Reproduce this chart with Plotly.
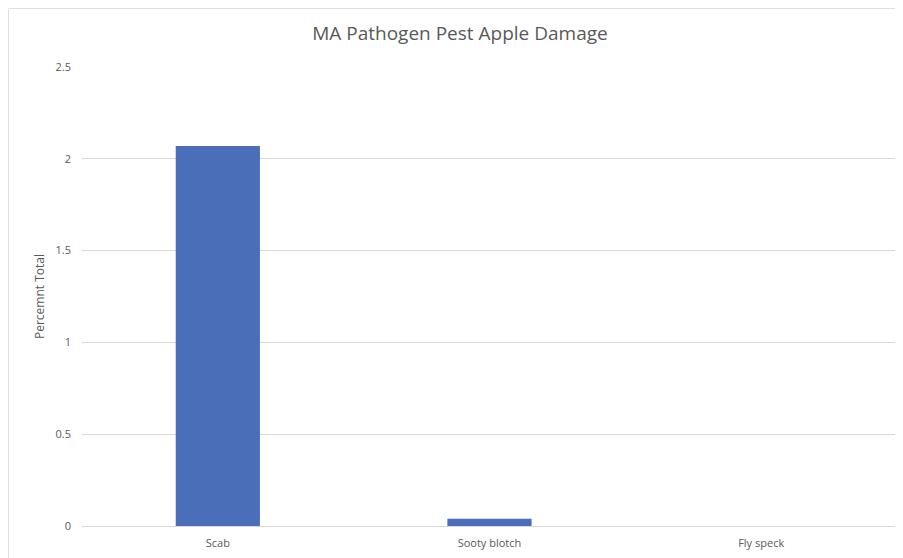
import plotly.graph_objects as go

categories = ["Scab", "Sooty blotch", "Fly speck"]
values = [2.07, 0.04, 0.0]
y_ticks = [0, 0.5, 1, 1.5, 2, 2.5]
y_tick_labels = ["0", "0.5", "1", "1.5", "2", "2.5"]

font_family = "Open Sans, sans-serif"
text_color = "#595959"

fig = go.Figure(
    go.Bar(
        x=categories,
        y=values,
        marker=dict(color="#4A6EB7", line=dict(width=0)),
    )
)

fig.update_layout(
    width=895,
    height=550,
    margin=dict(l=74, r=6, t=59, b=32),
    paper_bgcolor="white",
    plot_bgcolor="white",
    bargap=0.69,
    showlegend=False,
    title=dict(
        text="MA Pathogen Pest Apple Damage",
        x=0.505,
        xanchor="center",
        y=1 - 25 / 550,
        yanchor="middle",
        font=dict(family=font_family, size=19, color=text_color),
    ),
    font=dict(family=font_family, color=text_color),
    shapes=[
        dict(
            type="rect",
            xref="paper",
            yref="paper",
            x0=-0.0902,
            x1=1.02,
            y0=-0.1,
            y1=1.1275,
            line=dict(color="#E0E0E0", width=1),
            fillcolor="rgba(0,0,0,0)",
            layer="below",
        )
    ],
)

fig.update_xaxes(
    showgrid=False,
    showline=True,
    linecolor="#D9D9D9",
    linewidth=1,
    ticks="",
    tickfont=dict(size=11, color=text_color),
    ticklabelstandoff=7,
)

fig.update_yaxes(
    range=[0, 2.5],
    tickvals=y_ticks,
    ticktext=y_tick_labels,
    showgrid=True,
    gridcolor="#D9D9D9",
    gridwidth=1,
    zeroline=False,
    showline=False,
    ticks="",
    tickfont=dict(size=11, color=text_color),
    ticklabelstandoff=10,
    title=dict(text="Percemnt Total", font=dict(size=12, color=text_color), standoff=8),
)

fig.write_html("out.html")
